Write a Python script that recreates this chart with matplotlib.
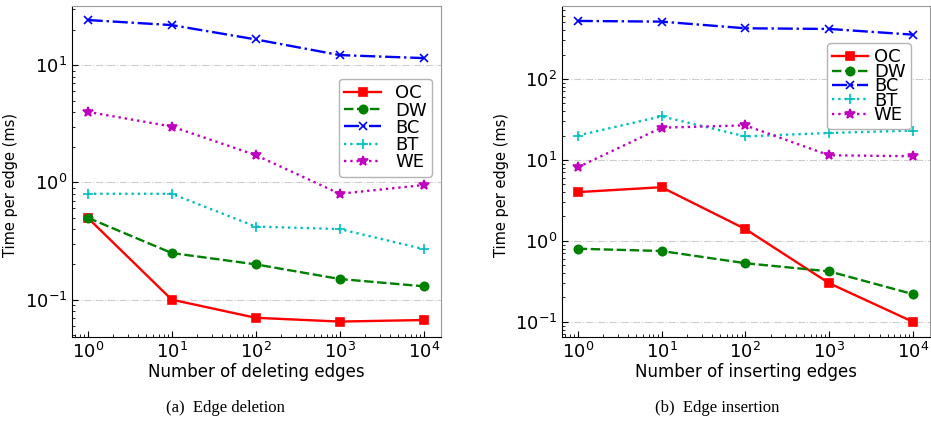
import matplotlib
matplotlib.use("Agg")
import matplotlib.pyplot as plt

plt.rcParams["font.family"] = ["DejaVu Sans"]

x_edges = [1, 10, 100, 1000, 10000]
methods = ["OC", "DW", "BC", "BT", "WE"]

# edge deletion, time per edge (ms)
del_oc = [0.50, 0.10, 0.070, 0.065, 0.067]
del_dw = [0.50, 0.25, 0.20, 0.15, 0.13]
del_bc = [24.3, 22.0, 16.6, 12.2, 11.5]
del_bt = [0.80, 0.80, 0.42, 0.40, 0.27]
del_we = [4.0, 3.0, 1.71, 0.80, 0.95]

# edge insertion, time per edge (ms)
ins_oc = [4.0, 4.6, 1.4, 0.30, 0.10]
ins_dw = [0.80, 0.75, 0.53, 0.42, 0.22]
ins_bc = [520, 510, 422, 414, 352]
ins_bt = [20.0, 34.5, 19.5, 21.5, 23.0]
ins_we = [8.1, 25.0, 26.7, 11.4, 11.1]

styles = [
    dict(color="red", linestyle="-", marker="s", markersize=6),
    dict(color="green", linestyle=(0, (4, 1.5)), marker="o", markersize=6),
    dict(color="blue", linestyle="-.", marker="x", markersize=6),
    dict(color="c", linestyle=":", marker="+", markersize=6.5),
    dict(color="m", linestyle=":", marker="*", markersize=7),
]


def draw_panel(ax, series, xlabel, ylim, legend_anchor, labelspacing, textpad):
    for name, vals, st in zip(methods, series, styles):
        ax.plot(x_edges, vals, label=name, linewidth=1.7, markeredgewidth=1.2, **st)
    ax.set_xscale("log")
    ax.set_yscale("log")
    ax.set_xlim(0.65, 16000)
    ax.set_ylim(*ylim)
    ax.yaxis.grid(True, which="major", color="0.8", linestyle="-.", linewidth=0.8)
    ax.set_axisbelow(True)
    ax.tick_params(which="both", direction="in", top=False, right=False)
    ax.tick_params(which="major", length=4, labelsize=13)
    ax.tick_params(which="minor", length=2)
    for side in ("top", "right"):
        ax.spines[side].set_color("0.6")
    ax.set_xlabel(xlabel, fontsize=12, labelpad=1)
    ax.set_ylabel("Time per edge (ms)", fontsize=10.5)
    ax.yaxis.set_label_coords(-0.145, 0.46)
    ax.legend(loc="upper right", bbox_to_anchor=legend_anchor, borderaxespad=0,
              fontsize=13, labelspacing=labelspacing, handletextpad=textpad,
              handlelength=2.0, borderpad=0.3, edgecolor="0.7", framealpha=1)


fig = plt.figure(figsize=(9.31, 4.23), dpi=100)
ax1 = fig.add_axes([0.0773, 0.2033, 0.3963, 0.7825])
ax2 = fig.add_axes([0.6037, 0.2033, 0.3953, 0.7825])

draw_panel(ax1, [del_oc, del_dw, del_bc, del_bt, del_we],
           "Number of deleting edges", (0.048, 32), (0.976, 0.78), -0.04, 0.8)
draw_panel(ax2, [ins_oc, ins_dw, ins_bc, ins_bt, ins_we],
           "Number of inserting edges", (0.065, 795), (0.948, 0.888), -0.2, 0.3)

fig.text(0.242, 0.035, "(a)  Edge deletion", family="Liberation Serif",
         fontsize=12, ha="center", va="center")
fig.text(0.770, 0.035, "(b)  Edge insertion", family="Liberation Serif",
         fontsize=12, ha="center", va="center")

fig.savefig("out.png", dpi=100)
